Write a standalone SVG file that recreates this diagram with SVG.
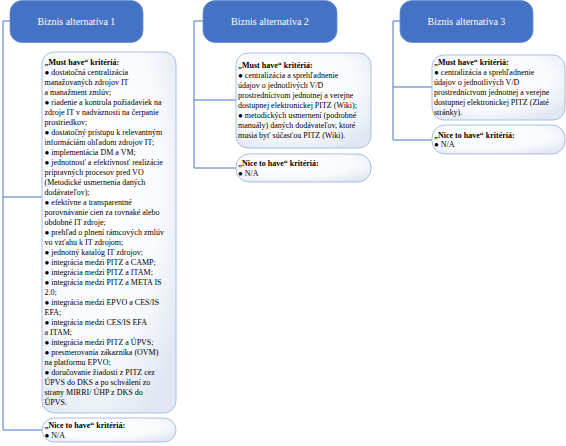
<svg xmlns="http://www.w3.org/2000/svg" width="566" height="446" viewBox="0 0 566 446">
<defs>
<radialGradient id="boxfill" cx="40%" cy="35%" r="75%">
<stop offset="0" stop-color="#ffffff"/>
<stop offset="0.65" stop-color="#f8fafd"/>
<stop offset="1" stop-color="#e1e7f2"/>
</radialGradient>
</defs>
<style>
.hdr{fill:#4472c4;stroke:#6a8fd0;stroke-width:0.8}
.hdrt{font-family:"Liberation Serif","Times New Roman",serif;font-size:10px;fill:#ffffff;text-anchor:middle}
.box{fill:url(#boxfill);stroke:#a9bfe3;stroke-width:1}
.t{font-family:"Liberation Serif","Times New Roman",serif;font-size:8px;fill:#000000}
.b{font-weight:bold}
.con{fill:none;stroke:#4a74c2;stroke-width:1}
</style>
<rect width="566" height="446" fill="#ffffff"/>
<g id="connectors">
<path class="con" d="M10,21 H3 V430 H42 M3,197 H42"/>
<path class="con" d="M203,21 H194 V168 H236 M194,100 H236"/>
<path class="con" d="M400,21 H393 V140 H432 M393,87 H432"/>
</g>
<g id="alt1">
<rect class="hdr" x="10" y="0.5" width="133" height="42" rx="12"/>
<text class="hdrt" x="76.5" y="24.5">Biznis alternatíva 1</text>
</g>
<g id="must1">
<rect class="box" x="42" y="52" width="134" height="361" rx="12"/>
<text class="t" x="44.5" y="64.5">
<tspan class="b" x="44.5" y="64.5">„Must have“ kritériá:</tspan>
<tspan x="44.5" dy="10">● dostatočná centralizácia</tspan>
<tspan x="44.5" dy="10">manažovaných zdrojov IT</tspan>
<tspan x="44.5" dy="10">a manažment zmlúv;</tspan>
<tspan x="44.5" dy="10">● riadenie a kontrola požiadaviek na</tspan>
<tspan x="44.5" dy="10">zdroje IT v  nadväznosti na čerpanie</tspan>
<tspan x="44.5" dy="10">prostriedkov;</tspan>
<tspan x="44.5" dy="10">● dostatočný prístupu k relevantným</tspan>
<tspan x="44.5" dy="10">informáciám  ohľadom zdrojov IT;</tspan>
<tspan x="44.5" dy="10">● implementácia DM a VM;</tspan>
<tspan x="44.5" dy="10">● jednotnosť a efektívnosť realizácie</tspan>
<tspan x="44.5" dy="10">prípravných procesov pred VO</tspan>
<tspan x="44.5" dy="10">(Metodické usmernenia daných</tspan>
<tspan x="44.5" dy="10">dodávateľov);</tspan>
<tspan x="44.5" dy="10">● efektívne a transparentné</tspan>
<tspan x="44.5" dy="10">porovnávanie cien za rovnaké alebo</tspan>
<tspan x="44.5" dy="10">obdobné IT zdroje;</tspan>
<tspan x="44.5" dy="10">● prehľad o plnení rámcových zmlúv</tspan>
<tspan x="44.5" dy="10">vo vzťahu k IT zdrojom;</tspan>
<tspan x="44.5" dy="10">● jednotný katalóg IT zdrojov;</tspan>
<tspan x="44.5" dy="10">● integrácia medzi PITZ a  CAMP;</tspan>
<tspan x="44.5" dy="10">● integrácia medzi PITZ a ITAM;</tspan>
<tspan x="44.5" dy="10">● integrácia medzi PITZ a  META IS</tspan>
<tspan x="44.5" dy="10">2.0;</tspan>
<tspan x="44.5" dy="10">● integrácia medzi EPVO a CES/IS</tspan>
<tspan x="44.5" dy="10">EFA;</tspan>
<tspan x="44.5" dy="10">● integrácia medzi CES/IS EFA</tspan>
<tspan x="44.5" dy="10">a ITAM;</tspan>
<tspan x="44.5" dy="10">● integrácia medzi PITZ a ÚPVS;</tspan>
<tspan x="44.5" dy="10">● presmerovania zákazníka (OVM)</tspan>
<tspan x="44.5" dy="10">na platformu EPVO;</tspan>
<tspan x="44.5" dy="10">● doručovanie žiadosti z PITZ cez</tspan>
<tspan x="44.5" dy="10">ÚPVS do DKS a po schválení zo</tspan>
<tspan x="44.5" dy="10">strany MIRRI/ ÚHP z DKS do</tspan>
<tspan x="44.5" dy="10">ÚPVS.</tspan>
</text>
</g>
<g id="nice1">
<rect class="box" x="42" y="418" width="134" height="24" rx="12"/>
<text class="t" x="44.5" y="428"><tspan class="b" x="44.5" y="428">„Nice to have“ kritériá:</tspan><tspan x="44.5" dy="10">● N/A</tspan></text>
</g>
<g id="alt2">
<rect class="hdr" x="203" y="0.5" width="134" height="42" rx="12"/>
<text class="hdrt" x="270" y="24.5">Biznis alternatíva 2</text>
</g>
<g id="must2">
<rect class="box" x="236" y="53" width="135" height="95" rx="12"/>
<text class="t" x="238" y="68">
<tspan class="b" x="238" y="68">„Must have“ kritériá:</tspan>
<tspan x="238" dy="10">● centralizácia a sprehľadnenie</tspan>
<tspan x="238" dy="10">údajov o jednotlivých V/D</tspan>
<tspan x="238" dy="10">prostredníctvom jednotnej a verejne</tspan>
<tspan x="238" dy="10">dostupnej elektronickej PITZ (Wiki);</tspan>
<tspan x="238" dy="10">● metodických usmernení (podrobné</tspan>
<tspan x="238" dy="10">manuály) daných dodávateľov, ktoré</tspan>
<tspan x="238" dy="10">musia byť súčasťou PITZ (Wiki).</tspan>
</text>
</g>
<g id="nice2">
<rect class="box" x="236" y="154" width="135" height="28" rx="13"/>
<text class="t" x="238" y="166"><tspan class="b" x="238" y="166">„Nice to have“ kritériá:</tspan><tspan x="238" dy="10">● N/A</tspan></text>
</g>
<g id="alt3">
<rect class="hdr" x="400" y="0.5" width="133" height="42" rx="12"/>
<text class="hdrt" x="466.5" y="24.5">Biznis alternatíva 3</text>
</g>
<g id="must3">
<rect class="box" x="432" y="55" width="133" height="65" rx="12"/>
<text class="t" x="434" y="65">
<tspan class="b" x="434" y="65">„Must have“ kritériá:</tspan>
<tspan x="434" dy="10">● centralizácia a sprehľadnenie</tspan>
<tspan x="434" dy="10">údajov o jednotlivých V/D</tspan>
<tspan x="434" dy="10">prostredníctvom jednotnej a verejne</tspan>
<tspan x="434" dy="10">dostupnej elektronickej PITZ (Zlaté</tspan>
<tspan x="434" dy="10">stránky).</tspan>
</text>
</g>
<g id="nice3">
<rect class="box" x="432" y="125" width="133" height="29" rx="13"/>
<text class="t" x="434" y="137.5"><tspan class="b" x="434" y="137.5">„Nice to have“ kritériá:</tspan><tspan x="434" dy="9.5">● N/A</tspan></text>
</g>
</svg>
